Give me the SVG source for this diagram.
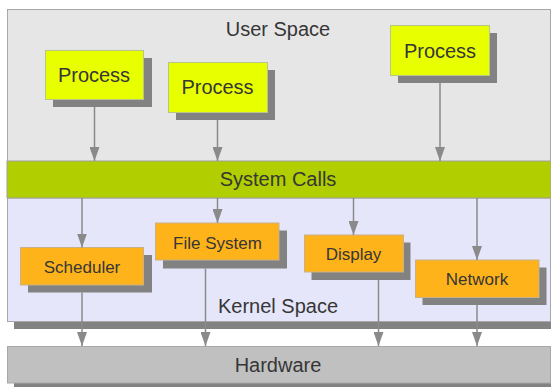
<svg xmlns="http://www.w3.org/2000/svg" width="551" height="387" viewBox="0 0 551 387">
  <defs>
    <marker id="head" viewBox="0 0 14 10" refX="14" refY="5" markerWidth="14" markerHeight="10" markerUnits="userSpaceOnUse" orient="auto">
      <path d="M0,0 L14,5 L0,10 Z" fill="#8a8a8a"/>
    </marker>
  </defs>
  <style>
    .label { font-family: "Liberation Sans", Arial, sans-serif; fill: #363636; text-anchor: middle; }
    .big { font-size: 20px; }
    .small { font-size: 17px; }
    .shadow { fill: #828282; }
    .layer { stroke: #a8a8a8; stroke-width: 1; }
    .proc { fill: #e8ff00; stroke: #b8c48a; stroke-width: 1; }
    .mod { fill: #ffb31a; stroke: #c8b089; stroke-width: 1; }
    .conn { stroke: #8a8a8a; stroke-width: 1.5; fill: none; marker-end: url(#head); }
  </style>

  <rect width="551" height="387" fill="#ffffff"/>

  <!-- layers -->
  <g id="user-space">
    <rect class="layer" x="7.5" y="9.5" width="543" height="152" fill="#e6e6e6"/>
    <text class="label big" x="278" y="36">User Space</text>
  </g>
  <g id="kernel-space">
    <rect class="shadow" x="14" y="205" width="540" height="124"/>
    <rect class="layer" x="7.5" y="198" width="543" height="123.5" fill="#e6e6fa"/>
    <text class="label big" x="278" y="313">Kernel Space</text>
  </g>
  <g id="system-calls">
    <rect x="7" y="161" width="544" height="37" fill="#b0ce00" stroke="#a0a0a0" stroke-width="1"/>
    <text class="label big" x="278" y="186">System Calls</text>
  </g>
  <g id="hardware">
    <rect class="shadow" x="14" y="353" width="540" height="37"/>
    <rect class="layer" x="7.5" y="346.5" width="543" height="36.5" fill="#c0c0c0"/>
    <text class="label big" x="278" y="372">Hardware</text>
  </g>

  <!-- processes -->
  <g id="process-1">
    <rect class="shadow" x="53" y="58" width="99" height="49"/>
    <rect class="proc" x="45.5" y="50.5" width="98" height="49"/>
    <text class="label big" x="94" y="82">Process</text>
  </g>
  <g id="process-2">
    <rect class="shadow" x="176" y="70" width="99" height="50"/>
    <rect class="proc" x="168.5" y="62.5" width="99" height="50"/>
    <text class="label big" x="217.5" y="93.5">Process</text>
  </g>
  <g id="process-3">
    <rect class="shadow" x="398" y="33" width="99" height="50"/>
    <rect class="proc" x="390.5" y="25.5" width="99" height="50"/>
    <text class="label big" x="440" y="57.5">Process</text>
  </g>

  <!-- kernel modules -->
  <g id="scheduler">
    <rect class="shadow" x="28" y="255" width="124" height="37.5"/>
    <rect class="mod" x="20.5" y="247.5" width="123" height="37.5"/>
    <text class="label small" x="82" y="272.5">Scheduler</text>
  </g>
  <g id="file-system">
    <rect class="shadow" x="163" y="230.5" width="124" height="38"/>
    <rect class="mod" x="155.5" y="223" width="123.5" height="37"/>
    <text class="label small" x="217.5" y="248.5">File System</text>
  </g>
  <g id="display">
    <rect class="shadow" x="311.5" y="242.5" width="99" height="37.5"/>
    <rect class="mod" x="304.5" y="235" width="99" height="37"/>
    <text class="label small" x="353.5" y="259.5">Display</text>
  </g>
  <g id="network">
    <rect class="shadow" x="422.5" y="267.5" width="124" height="37.5"/>
    <rect class="mod" x="415.5" y="260" width="123.5" height="37.5"/>
    <text class="label small" x="477" y="285">Network</text>
  </g>

  <!-- connectors -->
  <g id="connectors">
    <line class="conn" x1="94.5" y1="107" x2="94.5" y2="161"/>
    <line class="conn" x1="217.5" y1="120" x2="217.5" y2="161"/>
    <line class="conn" x1="440" y1="83" x2="440" y2="161"/>

    <line class="conn" x1="82" y1="198" x2="82" y2="247.5"/>
    <line class="conn" x1="217.5" y1="198" x2="217.5" y2="223"/>
    <line class="conn" x1="353.5" y1="198" x2="353.5" y2="235"/>
    <line class="conn" x1="477" y1="198" x2="477" y2="260"/>

    <line class="conn" x1="82" y1="292.5" x2="82" y2="346"/>
    <line class="conn" x1="205.5" y1="268.5" x2="205.5" y2="346"/>
    <line class="conn" x1="378.5" y1="280" x2="378.5" y2="346"/>
    <line class="conn" x1="477" y1="305" x2="477" y2="346"/>
  </g>
</svg>
